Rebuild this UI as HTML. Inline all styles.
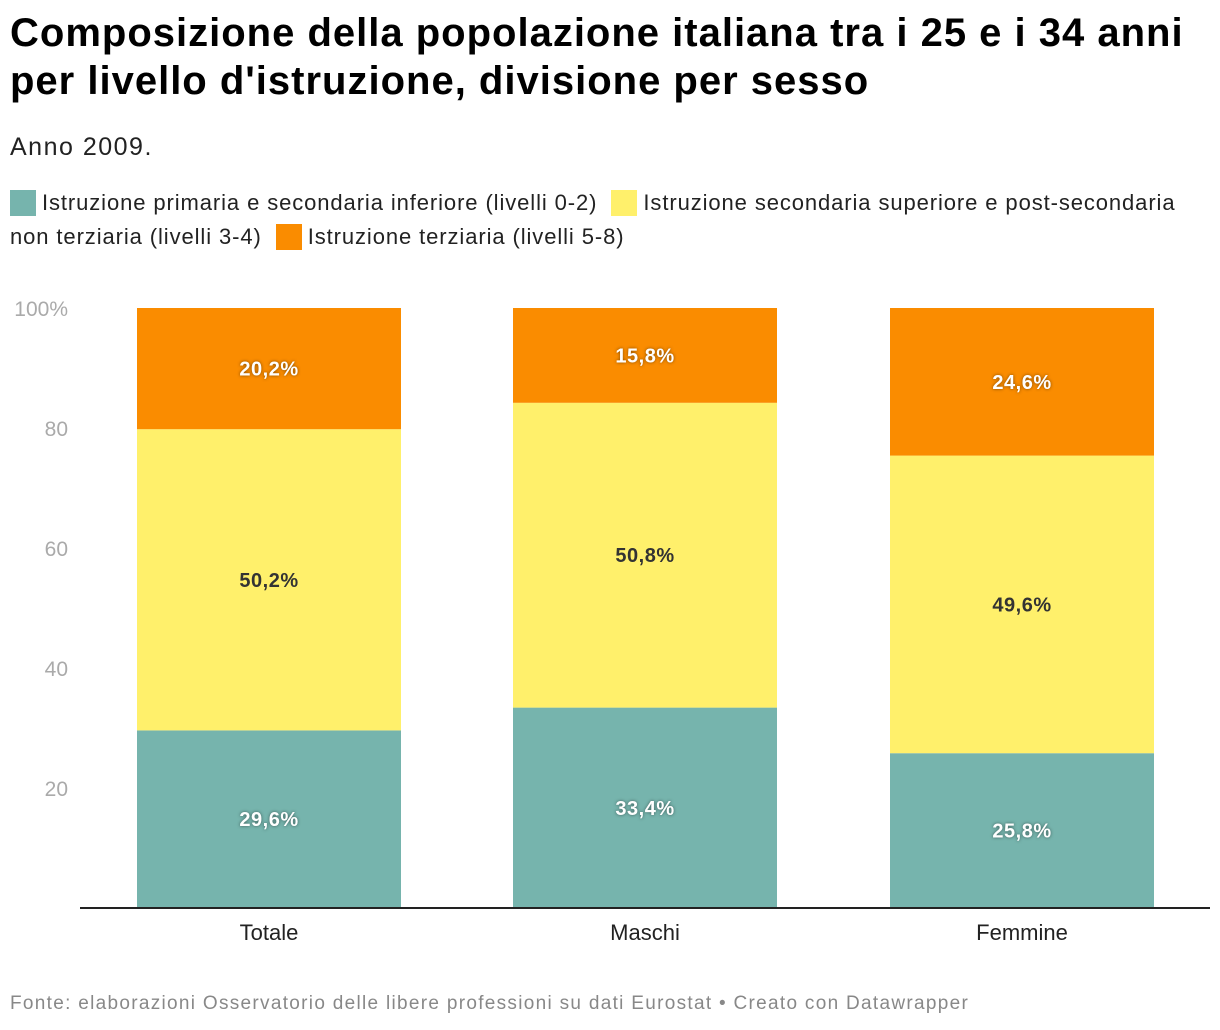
<!DOCTYPE html>
<html><head><meta charset="utf-8">
<style>
body{margin:0;width:1220px;height:1030px;background:#fff;font-family:"Liberation Sans",sans-serif;overflow:hidden;position:relative}
.title{position:absolute;left:10px;top:9px;font-size:40px;font-weight:bold;line-height:48px;color:#000;letter-spacing:1px;white-space:nowrap}
.sub{position:absolute;left:10px;top:133px;font-size:25px;color:#222;letter-spacing:1.5px}
.legend{position:absolute;left:10px;top:186px;width:1210px;font-size:22px;color:#222;line-height:34px;letter-spacing:0.9px;white-space:nowrap}
.sw{display:inline-block;width:26px;height:26px;vertical-align:-6px;margin-right:6px}
.foot{position:absolute;left:10px;top:993px;font-size:19px;color:#888;letter-spacing:1.3px;white-space:nowrap}
</style></head><body>
<div class="title">Composizione della popolazione italiana tra i 25 e i 34 anni<br>per livello d'istruzione, divisione per sesso</div>
<div class="sub">Anno 2009.</div>
<div class="legend">
<span><span class="sw" style="background:#76b4ad"></span>Istruzione primaria e secondaria inferiore (livelli 0-2)</span>&nbsp;
<span><span class="sw" style="background:#fff06b"></span>Istruzione secondaria superiore e post-secondaria<br>non terziaria (livelli 3-4)</span>&nbsp;
<span><span class="sw" style="background:#fa8c00"></span>Istruzione terziaria (livelli 5-8)</span>
</div>
<svg id="chart" width="1220" height="1030" style="position:absolute;left:0;top:0"></svg>
<div class="foot">Fonte: elaborazioni Osservatorio delle libere professioni su dati Eurostat • Creato con Datawrapper</div>
<script>
const categories=["Totale","Maschi","Femmine"];
const primaria=[29.6,33.4,25.8];
const secondaria=[50.2,50.8,49.6];
const terziaria=[20.2,15.8,24.6];
const ticks=[20,40,60,80,100];
const tickLabels=["20","40","60","80","100%"];
const series=[{v:primaria,c:"#76b4ad",t:"#fff"},{v:secondaria,c:"#fff06b",t:"#333"},{v:terziaria,c:"#fa8c00",t:"#fff"}];
const svg=document.getElementById('chart');
const NS="http://www.w3.org/2000/svg";
const y0=908,y100=308;
const y=v=>y0-(v/100)*(y0-y100);
const xs=[137,513,890],bw=264;
const fmt=v=>v.toFixed(1).replace('.',',')+'%';
function mk(tag,attrs,txt){const e=document.createElementNS(NS,tag);for(const k in attrs)e.setAttribute(k,attrs[k]);if(txt!==undefined)e.textContent=txt;svg.appendChild(e);return e;}
ticks.forEach((t,i)=>{
 const e=mk('text',{x:68,y:y(t)+8,'text-anchor':'end','font-size':21,fill:'#aaa','font-family':'Liberation Sans'},tickLabels[i]);
 
 
});
categories.forEach((c,i)=>{
 let acc=0;
 series.forEach((s,j)=>{
  const v=s.v[i];
  const r=mk('rect',{x:xs[i],y:y(acc+v),width:bw,height:y(acc)-y(acc+v),fill:s.c});
  
  
  const mid=y(acc+v/2);
  const tx=mk('text',{x:xs[i]+bw/2,y:mid+7,'text-anchor':'middle','font-size':20,'font-weight':'bold',fill:s.t,'font-family':'Liberation Sans','letter-spacing':'0.5',style:s.t=='#fff'?'text-shadow:0 0 3px rgba(0,0,0,0.5)':''},fmt(v));
  
  
  acc+=v;
 });
 const l=mk('text',{x:xs[i]+bw/2,y:940,'text-anchor':'middle','font-size':22,fill:'#222','font-family':'Liberation Sans'},c);
 
 
});
const ax=mk('line',{x1:80,x2:1210,y1:y0,y2:y0,stroke:'#222','stroke-width':2});


</script>
</body></html>
